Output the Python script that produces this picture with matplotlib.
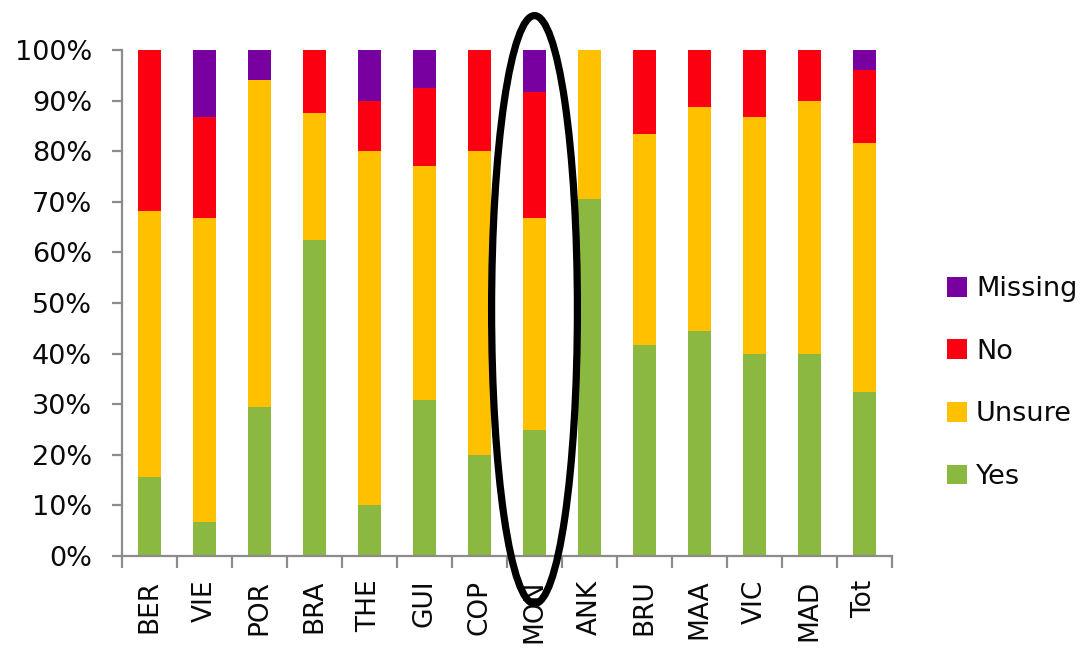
import matplotlib
matplotlib.use("Agg")
import matplotlib.pyplot as plt
from matplotlib.patches import Ellipse, Patch
from matplotlib.ticker import FixedLocator, PercentFormatter
import numpy as np

# Survey answers per site, in percent of respondents
sites = ["BER", "VIE", "POR", "BRA", "THE", "GUI", "COP", "MON",
         "ANK", "BRU", "MAA", "VIC", "MAD", "Tot"]
yes = [15.6, 6.7, 29.4, 62.5, 10.0, 30.8, 20.0, 25.0,
       70.6, 41.7, 44.4, 40.0, 40.0, 32.5]
unsure = [52.6, 60.0, 64.7, 25.0, 70.0, 46.2, 60.0, 41.7,
          29.4, 41.7, 44.4, 46.7, 50.0, 49.2]
no = [31.8, 20.0, 0.0, 12.5, 10.0, 15.4, 20.0, 25.0,
      0.0, 16.6, 11.2, 13.3, 10.0, 14.3]
missing = [0.0, 13.3, 5.9, 0.0, 10.0, 7.6, 0.0, 8.3,
           0.0, 0.0, 0.0, 0.0, 0.0, 4.0]
highlighted = "MON"

series = [("Yes", yes, "#8BB840"),
          ("Unsure", unsure, "#FFC000"),
          ("No", no, "#FA0010"),
          ("Missing", missing, "#7800A0")]

plt.rcParams["font.family"] = ["DejaVu Sans"]
fig = plt.figure(figsize=(10.84, 6.55), dpi=100)
ax = fig.add_axes([122 / 1084, 1 - 556 / 655, 770 / 1084, 506 / 655])

x = np.arange(len(sites))
bottom = np.zeros(len(sites))
for name, vals, color in series:
    vals = np.asarray(vals, dtype=float)
    ax.bar(x, vals, width=0.41, bottom=bottom, color=color, label=name,
           linewidth=0)
    bottom += vals

ax.set_xlim(-0.5, len(sites) - 0.5)
ax.set_ylim(0, 100)

grey = "#8C8C8C"
for side in ("top", "right"):
    ax.spines[side].set_visible(False)
for side in ("left", "bottom"):
    ax.spines[side].set_color(grey)
    ax.spines[side].set_linewidth(1.6)

ax.yaxis.set_major_locator(FixedLocator(np.arange(0, 101, 10)))
ax.yaxis.set_major_formatter(PercentFormatter(decimals=0))
ax.tick_params(axis="y", direction="out", length=7.5, width=1.6, color=grey,
               labelsize=19.5, pad=14, labelcolor="#0A0A0A")

ax.set_xticks(x)
ax.set_xticklabels(sites, rotation=90)
ax.set_xticks(np.arange(-0.5, len(sites)), minor=True)
ax.tick_params(axis="x", which="major", length=0, labelsize=19, pad=17,
               labelcolor="#0A0A0A")
ax.tick_params(axis="x", which="minor", direction="out", length=8.5,
               width=1.6, color=grey)

# Outline drawn around the highlighted site's bar
hx = sites.index(highlighted)
ax.add_patch(Ellipse((hx, 48.7), width=1.56, height=116.2, fill=False,
                     edgecolor="black", linewidth=5.2, clip_on=False,
                     zorder=5))

handles = [Patch(facecolor=c, edgecolor="none", label=n)
           for n, _, c in reversed(series)]
fig.legend(handles=handles, loc="center left",
           bbox_to_anchor=(933 / 1084, 1 - 383 / 655), frameon=False,
           fontsize=19.5, handlelength=0.74, handleheight=0.74,
           handletextpad=0.35, labelspacing=1.35, borderpad=0,
           labelcolor="#0A0A0A")

fig.savefig("out.png", dpi=100)
